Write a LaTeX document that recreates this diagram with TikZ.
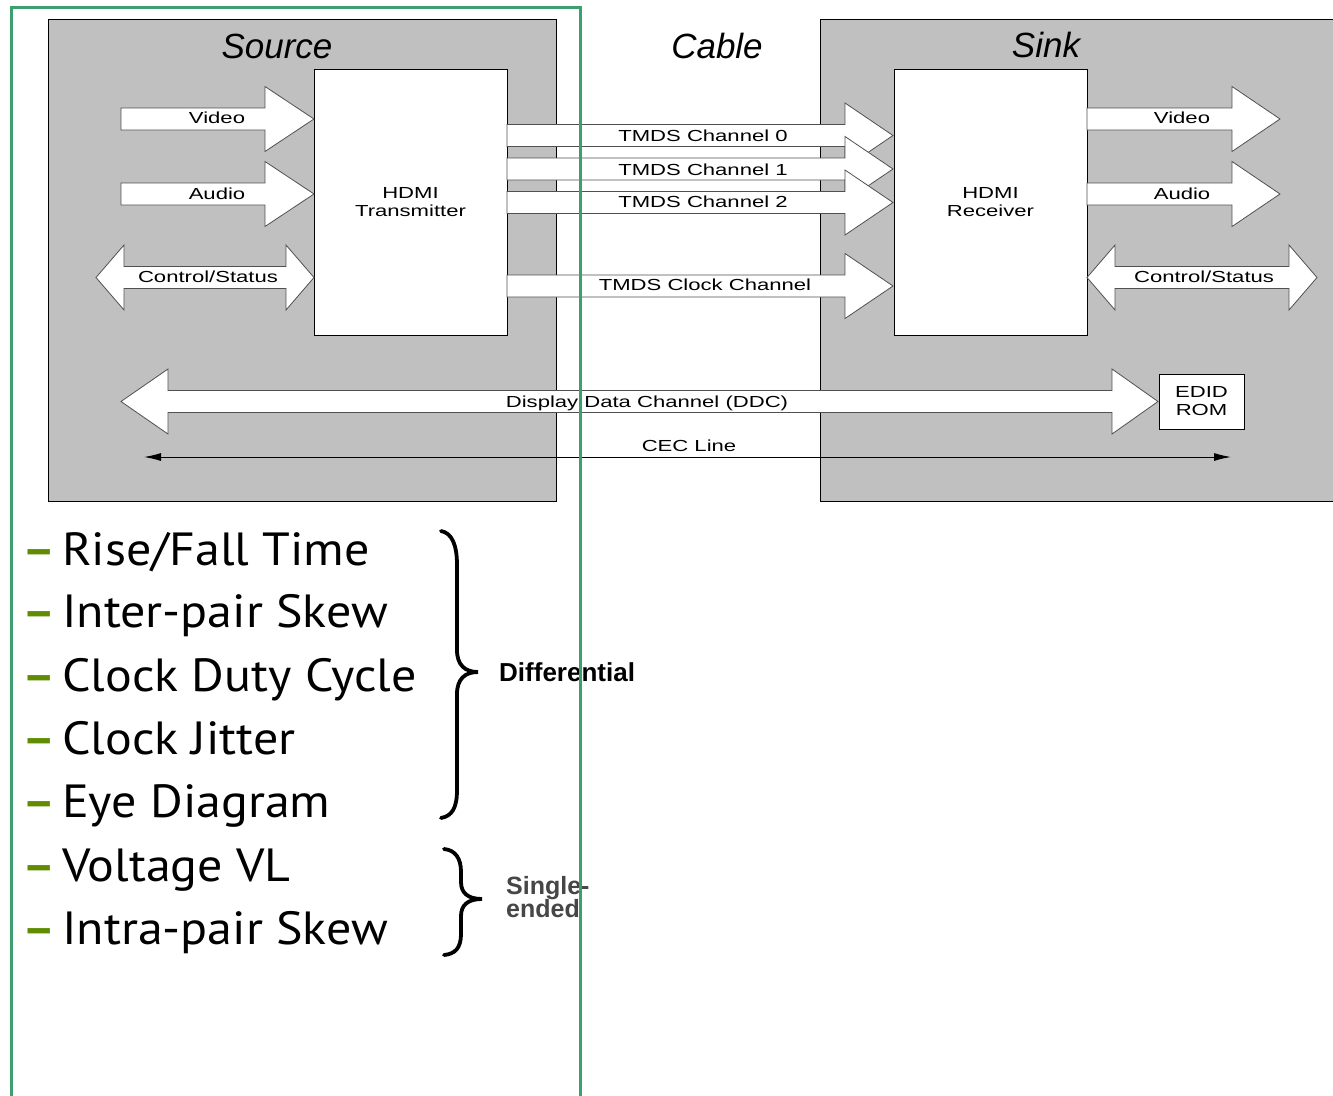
\documentclass[tikz,border=0pt]{standalone}
\usepackage{fontspec}
\setmainfont{Liberation Sans}
\newfontfamily\listfont{PT Sans}
\usepackage{graphicx}
\usetikzlibrary{arrows.meta}
\definecolor{boxgray}{RGB}{192,192,192}
\definecolor{framegreen}{RGB}{60,160,110}
\definecolor{dashgreen}{RGB}{95,140,0}
\definecolor{edgegray}{RGB}{80,80,80}
\definecolor{singlegray}{RGB}{70,70,70}
\newcommand\wideT[1]{\scalebox{1.38}[1]{#1}}
\newcommand\listT[1]{\scalebox{1.075}[1]{#1}}
\newcommand\RArrow[4]{% shaft left, head base, tip, centre y
  \draw[barrow] (#1,#4-11) -- (#2,#4-11) -- (#2,#4-32.5) -- (#3,#4) -- (#2,#4+32.5) -- (#2,#4+11) -- (#1,#4+11) -- cycle;}
\newcommand\DArrow[5]{% left tip, left base, right base, right tip, centre y
  \draw[barrow] (#1,#5) -- (#2,#5-32.5) -- (#2,#5-11) -- (#3,#5-11) -- (#3,#5-32.5) -- (#4,#5) -- (#3,#5+32.5) -- (#3,#5+11) -- (#2,#5+11) -- (#2,#5+32.5) -- cycle;}
\begin{document}
\begin{tikzpicture}[x=1pt,y=-1pt,
  area/.style={fill=boxgray,draw=black,line width=1pt},
  chip/.style={draw=black,fill=white,line width=1pt,inner sep=0pt,align=center,font=\fontsize{16}{18}\selectfont},
  barrow/.style={draw=edgegray,fill=white,line width=0.8pt,line join=miter},
  lbl/.style={inner sep=0pt,anchor=base,font=\fontsize{16}{18}\selectfont},
  ttl/.style={inner sep=0pt,anchor=base,font=\fontsize{35}{40}\selectfont\itshape},
  item/.style={inner sep=0pt,anchor=base west,font=\listfont\fontsize{46.5}{50}\selectfont},
  bullet/.style={inner sep=0pt,anchor=base,text=dashgreen,font=\listfont\bfseries\fontsize{46}{50}\selectfont},
  bracepath/.style={line width=3.8pt,line cap=round},
  cec/.style={line width=1pt,{Latex[length=17pt,width=8pt]}-{Latex[length=17pt,width=8pt]}},
]
\useasboundingbox (0,0) rectangle (1333,1095);
\fill[white] (0,0) rectangle (1333,1095);
% areas
\draw[area] (48,19) rectangle (556,501);
\draw[area] (820,19) rectangle (1345,501);
% titles
\node[ttl] (tsrc) at (277,58) {Source};
\node[ttl] (tcab) at (717,58) {Cable};
\node[ttl] (tsnk) at (1046,57) {Sink};
% chips
\node[chip,minimum width=193pt,minimum height=266pt] (tx) at (410.5,202) {\wideT{HDMI}\\\wideT{Transmitter}};
\node[chip,minimum width=193pt,minimum height=266pt] (rx) at (990.5,202) {\wideT{HDMI}\\\wideT{Receiver}};
\node[chip,minimum width=85pt,minimum height=55pt] (edid) at (1201.5,401.5) {\wideT{EDID}\\\wideT{ROM}};
% source arrows
\RArrow{121}{265}{314}{119}
\RArrow{121}{265}{314}{194}
\DArrow{96}{124}{286}{314}{277.5}
% TMDS
\RArrow{507}{845}{893}{135.5}
\RArrow{507}{845}{893}{169}
\RArrow{507}{845}{893}{202.5}
\RArrow{507}{845}{893}{286}
% sink arrows
\RArrow{1087}{1232}{1280}{119}
\RArrow{1087}{1232}{1280}{194}
\DArrow{1087}{1115}{1289}{1317}{277.5}
% DDC
\DArrow{121}{168}{1112}{1158}{401.5}
% labels
\node[lbl] (lsv) at (217,123) {\wideT{Video}};
\node[lbl] (lsa) at (217,199) {\wideT{Audio}};
\node[lbl] (lsc) at (208,282) {\wideT{Control/Status}};
\node[lbl] (l0) at (703,141) {\wideT{TMDS Channel 0}};
\node[lbl] (l1) at (703,175) {\wideT{TMDS Channel 1}};
\node[lbl] (l2) at (703,207) {\wideT{TMDS Channel 2}};
\node[lbl] (lc) at (705,290) {\wideT{TMDS Clock Channel}};
\node[lbl] (lkv) at (1182,123) {\wideT{Video}};
\node[lbl] (lka) at (1182,199) {\wideT{Audio}};
\node[lbl] (lkc) at (1204,282) {\wideT{Control/Status}};
\node[lbl] (lddc) at (647,407) {\wideT{Display Data Channel (DDC)}};
\node[lbl] (lcec) at (689,451) {\wideT{CEC Line}};
% CEC line
\coordinate (cecL) at (144,457);
\coordinate (cecR) at (1231,457);
\draw[cec] (cecL) -- (cecR);
% list
\foreach \t/\b [count=\i] in {{Rise/Fall Time}/565, {Inter-pair Skew}/627, {Clock Duty Cycle}/691, {Clock Jitter}/754, {Eye Diagram}/817, {Voltage VL}/881, {Intra-pair Skew}/944}{
  \node[bullet] (d\i) at (39,\b) {\scalebox{1.1}[1]{–}};
  \node[item] (t\i) at (62,\b) {\listT{\t}};
}
% braces
\draw[bracepath] (441,531) .. controls (452,533) and (457,545) .. (457,565) -- (457,650) .. controls (457,665) and (465,672) .. (478,672) .. controls (465,672) and (457,679) .. (457,694) -- (457,790) .. controls (457,808) and (452,816) .. (441,818);
\draw[bracepath] (444,849) .. controls (455,850) and (461,858) .. (461,872) -- (461,882) .. controls (461,893) and (468,899) .. (482,899) .. controls (468,899) and (461,905) .. (461,916) -- (461,934) .. controls (461,948) and (455,954) .. (444,955);
\node[inner sep=0pt,anchor=west,font=\bfseries\fontsize{26}{26}\selectfont] (diff) at (499,672) {Differential};
\node[inner sep=0pt,anchor=west,align=left,text=singlegray,font=\bfseries\fontsize{25}{25}\selectfont] (single) at (506,897) {Single-\\[-2pt]ended};
% frame
\draw[framegreen,line width=3pt] (11,1110) -- (11,7) -- (580,7) -- (580,1110);
\end{tikzpicture}
\end{document}
